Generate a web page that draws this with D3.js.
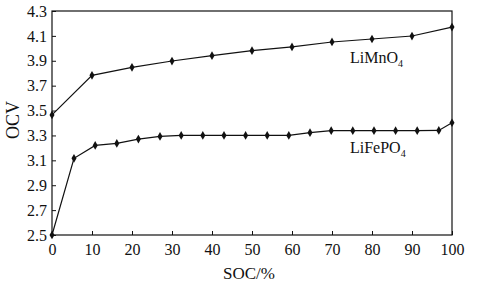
<!DOCTYPE html>
<html>
<head>
<meta charset="utf-8">
<script src="https://cdn.jsdelivr.net/npm/d3@7"></script>
<style>
  body { margin: 0; background: #fff; }
  svg { display: block; font-family: "Liberation Serif", "DejaVu Serif", serif; }
</style>
</head>
<body>
<div id="chart"></div>
<script>
// LiMnO4 curve
const mnSoc = [0, 10, 20, 30, 40, 50, 60, 70, 80, 90, 100];
const mnOcv = [3.465, 3.783, 3.847, 3.898, 3.941, 3.981, 4.011, 4.051, 4.075, 4.099, 4.171];

// LiFePO4 curve
const feSoc = [0, 5.5, 10.8, 16.2, 21.6, 27, 32.3, 37.7, 43, 48.4, 53.8, 59.2, 64.5, 69.8, 75.2, 80.5, 85.9, 91.3, 96.7, 100];
const feOcv = [2.5, 3.116, 3.22, 3.236, 3.271, 3.292, 3.30, 3.30, 3.30, 3.30, 3.30, 3.30, 3.322, 3.338, 3.338, 3.338, 3.338, 3.338, 3.34, 3.402];

const xTicks = [0, 10, 20, 30, 40, 50, 60, 70, 80, 90, 100];
const yTicks = [2.5, 2.7, 2.9, 3.1, 3.3, 3.5, 3.7, 3.9, 4.1, 4.3];

const width = 477;
const height = 298;
const marginTop = 11;
const marginRight = 25;
const marginBottom = 63;
const marginLeft = 52;

const svg = d3.create("svg")
  .attr("width", width)
  .attr("height", height)
  .attr("viewBox", [0, 0, width, height]);

d3.select("#chart").append(() => svg.node());

const x = d3.scaleLinear()
  .domain([0, 100])
  .range([marginLeft, width - marginRight]);

const y = d3.scaleLinear()
  .domain([2.5, 4.3])
  .range([height - marginBottom, marginTop]);

// marco
svg.append("rect")
  .attr("x", marginLeft)
  .attr("y", marginTop)
  .attr("width", width - marginLeft - marginRight)
  .attr("height", height - marginTop - marginBottom)
  .attr("fill", "none")
  .attr("stroke", "#111")
  .attr("stroke-width", 1.2);

// eje X, marcas hacia dentro
svg.append("g")
  .attr("transform", `translate(0,${height - marginBottom})`)
  .call(d3.axisBottom(x).tickValues(xTicks).tickSize(-4).tickPadding(9).tickFormat(d3.format("d")))
  .call(g => g.select(".domain").remove())
  .call(g => g.selectAll(".tick line").attr("stroke", "#111"))
  .call(g => g.selectAll(".tick text")
    .attr("font-size", 16)
    .attr("fill", "#111")
    .attr("font-family", "Liberation Serif, serif"));

// eje Y
svg.append("g")
  .attr("transform", `translate(${marginLeft},0)`)
  .call(d3.axisLeft(y).tickValues(yTicks).tickSize(-4).tickPadding(5).tickFormat(d3.format(".1f")))
  .call(g => g.select(".domain").remove())
  .call(g => g.selectAll(".tick line").attr("stroke", "#111"))
  .call(g => g.selectAll(".tick text")
    .attr("font-size", 16)
    .attr("fill", "#111")
    .attr("font-family", "Liberation Serif, serif"));

// títulos de ejes
svg.append("text")
  .attr("x", 249)
  .attr("y", 279)
  .attr("text-anchor", "middle")
  .attr("font-size", 17)
  .attr("fill", "#111")
  .text("SOC/%");

svg.append("text")
  .attr("transform", `translate(19,${(marginTop + height - marginBottom) / 2 - 3}) rotate(-90)`)
  .attr("text-anchor", "middle")
  .attr("font-size", 18)
  .attr("fill", "#111")
  .text("OCV");

const series = [
  { soc: mnSoc, ocv: mnOcv },
  { soc: feSoc, ocv: feOcv }
];

const line = d3.line()
  .x(d => x(d[0]))
  .y(d => y(d[1]));

const diamond = d3.symbol().type(d3.symbolDiamond).size(22);

for (const s of series) {
  const pts = s.soc.map((v, i) => [v, s.ocv[i]]);
  svg.append("path")
    .attr("d", line(pts))
    .attr("fill", "none")
    .attr("stroke", "#111")
    .attr("stroke-width", 1.2);
  svg.append("g")
    .selectAll("path")
    .data(pts)
    .join("path")
    .attr("d", diamond)
    .attr("transform", d => `translate(${x(d[0])},${y(d[1])})`)
    .attr("fill", "#111");
}

// etiquetas de las series
function seriesLabel(px, py, base) {
  const t = svg.append("text")
    .attr("x", px)
    .attr("y", py)
    .attr("font-size", 16)
    .attr("fill", "#111");
  t.append("tspan").text(base);
  t.append("tspan").attr("dy", 4).attr("font-size", 10).text("4");
}
seriesLabel(350, 63, "LiMnO");
seriesLabel(350, 153, "LiFePO");
</script>
</body>
</html>
